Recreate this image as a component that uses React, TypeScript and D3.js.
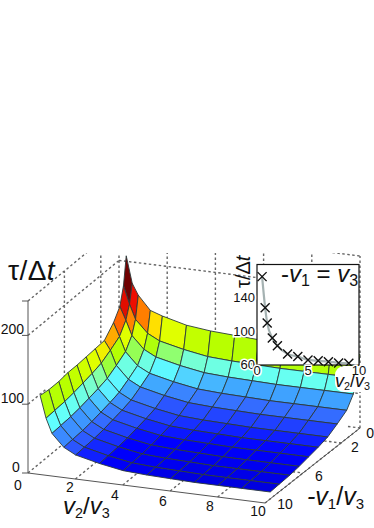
import React from "react";
import * as d3 from "d3";

const v2Nodes = [0.3, 0.55, 0.8, 1.3, 1.8, 2.8, 3.8, 4.8, 5.8, 6.8, 7.8, 8.8, 10];
const v1Nodes = [0, 0.3, 0.7, 1.4, 2.4, 3.4, 4.4, 5.4, 6.4, 7.4, 8.5, 9.45];

// tau/dt, one row per -v1 node
const tauRows = [
  [208, 169, 153, 133, 127, 118, 114, 112, 110, 109, 108, 108, 107],
  [168, 142, 121, 103, 94, 86, 80, 78, 77, 76, 76, 76, 76],
  [142, 123, 102, 84, 75, 67, 61, 59, 58, 57, 57, 57, 57],
  [126, 107, 86, 68, 59, 51, 45, 43, 42, 41, 41, 41, 41],
  [111, 98, 77, 59, 50, 42, 36, 34, 33, 32, 32, 32, 32],
  [110, 90, 69, 51, 42, 34, 28, 26, 25, 24, 24, 24, 24],
  [109, 86, 65, 47, 38, 30, 24, 22, 21, 20, 20, 20, 20],
  [108, 83, 62, 44, 35, 27, 21, 19, 18, 17, 17, 17, 17],
  [108, 80, 59, 41, 32, 24, 18, 16, 15, 14, 14, 14, 14],
  [106, 78, 57, 39, 30, 22, 16, 14, 13, 12, 12, 12, 12],
  [106, 77, 56, 38, 29, 21, 15, 13, 12, 11, 11, 11, 11],
  [108, 76, 55, 37, 28, 20, 14, 12, 11, 10, 10, 10, 10],
];

const colorLevels = [9, 12, 16, 20, 24, 30, 34, 42, 47, 55, 64, 70, 78, 86, 94, 100, 108, 118, 142];
const colorValues = ["#0000d8", "#0000f0", "#0000ff", "#1020ff", "#2040ff", "#3060ff", "#3878ff", "#40a8ff", "#5cf0ff", "#60ffff", "#80ffc0", "#a0ff20", "#b8ff00", "#e0ff00", "#ffe000", "#ff9000", "#ff6000", "#ff1000", "#700000"];

const v2Ticks = [2, 4, 6, 8, 10];
const v1Ticks = [2, 6, 10];
const zTicks = [0, 100, 200, 250];
const wallLines = [200, 250];

const insetX = [0.5, 0.8, 1, 1.5, 2, 3, 4, 5, 6, 7, 8, 9];
const insetY = [165, 128, 110, 92, 83, 73, 70, 66, 65, 64, 62.5, 62];
const insetXTicks = [0, 5, 10];
const insetYTicks = [60, 100, 140];

const xFront = d3.scaleLinear().domain([0, 10]).range([28, 265]);
const xBack = d3.scaleLinear().domain([0, 10]).range([119, 360]);
const yFront = d3.scaleLinear().domain([0, 10]).range([473, 503]);
const yBack = d3.scaleLinear().domain([0, 10]).range([398, 428]);
const zLift = d3.scaleLinear().domain([0, 250]).range([0, 172]);
const depth = d3.scaleLinear().domain([0, 10]).range([0, 1]);

function project(v: number, k: number, z: number): [number, number] {
  const t = depth(k);
  return [xBack(v) + (xFront(v) - xBack(v)) * t, yBack(v) + (yFront(v) - yBack(v)) * t - zLift(z)];
}

const color = d3.scaleLinear<string>().domain(colorLevels).range(colorValues).clamp(true);
const insetSx = d3.scaleLinear().domain([0, 10]).range([257, 359]);
const insetSy = d3.scaleLinear().domain([60, 180]).range([365, 264]);
const insetLine = d3.line<number>().x((d) => insetSx(d)).y((_, i) => insetSy(insetY[i])).curve(d3.curveMonotoneX);
const path2 = (a: [number, number], b: [number, number]) => `M${a[0]},${a[1]}L${b[0]},${b[1]}`;

const FONT = "'Liberation Sans', Arial, sans-serif";
const DASH = { stroke: "#666", strokeWidth: 1.4, strokeDasharray: "2.5 2.5", fill: "none" };

const cells: { d: string; fill: string; order: number }[] = [];
for (let r = 0; r < v1Nodes.length - 1; r++) {
  for (let c = 0; c < v2Nodes.length - 1; c++) {
    const corners: [number, number, number][] = [
      [v2Nodes[c], v1Nodes[r], tauRows[r][c]],
      [v2Nodes[c + 1], v1Nodes[r], tauRows[r][c + 1]],
      [v2Nodes[c + 1], v1Nodes[r + 1], tauRows[r + 1][c + 1]],
      [v2Nodes[c], v1Nodes[r + 1], tauRows[r + 1][c]],
    ];
    cells.push({
      d: "M" + corners.map((p) => project(p[0], p[1], p[2]).join(",")).join("L") + "Z",
      fill: color(d3.min(corners, (p) => p[2]) as number),
      order: r * 100 + c,
    });
  }
}
cells.sort((a, b) => a.order - b.order);

function Ratio({ a, sub1, x, y, size }: { a: string; sub1: string; x: number; y: number; size: number }) {
  return (
    <text x={x} y={y} fontSize={size} fontFamily={FONT} fill="#111">
      <tspan fontStyle="italic">{a}</tspan>
      <tspan fontSize={size * 0.6} dy={size * 0.16}>{sub1}</tspan>
      <tspan dy={-size * 0.16}>/</tspan>
      <tspan fontStyle="italic">v</tspan>
      <tspan fontSize={size * 0.6} dy={size * 0.16}>3</tspan>
    </text>
  );
}

export default function App() {
  return (
    <svg width={374} height={528} style={{ position: "absolute", left: 0, top: 0 }}>
      <defs>
        <clipPath id="box">
          <rect x={0} y={253} width={374} height={275} />
        </clipPath>
      </defs>

      <g clipPath="url(#box)">
        {wallLines.map((z) => (
          <g key={z}>
            <path d={path2(project(0, 10, z), project(0, 0, z))} {...DASH} />
            <path d={path2(project(0, 0, z), project(10, 0, z))} {...DASH} />
          </g>
        ))}
        <path d={path2(project(0, 10, 0), project(0, 0, 0))} {...DASH} />
        <path d={path2(project(0, 10, 100), project(0, 8, 100))} {...DASH} />
        {[6, 2, 0].map((k) => (
          <path key={k} d={path2(project(0, k, 0), project(0, k, 250))} {...DASH} />
        ))}
        {v2Ticks.map((v) => (
          <g key={v}>
            <path d={path2(project(v, 0, 0), project(v, 0, 250))} {...DASH} />
            <path d={path2(project(v, 10, 0), project(v, 0, 0))} {...DASH} />
          </g>
        ))}
        {[2, 6].map((k) => (
          <path key={k} d={path2(project(0, k, 0), project(10, k, 0))} {...DASH} />
        ))}
        <path d={path2(project(9.6, 0, 50), project(10, 0, 50))} {...DASH} />
        <path d={path2(project(9.5, 0, 0), project(10, 0, 0))} {...DASH} />
      </g>

      {cells.map((c, i) => (
        <path key={i} d={c.d} fill={c.fill} stroke="#2b3a3a" strokeWidth={0.9} strokeLinejoin="round" />
      ))}

      <path d={path2(project(0, 10, 0), project(10, 10, 0))} stroke="#555" strokeWidth={1} fill="none" />
      <path d={path2(project(10, 10, 0), project(10, 0, 0))} stroke="#555" strokeWidth={1} fill="none" />
      <path d={path2(project(0, 10, 0), project(0, 10, 250))} stroke="#555" strokeWidth={1} fill="none" />
      {zTicks.map((z) => {
        const p = project(0, 10, z);
        return <path key={z} d={path2([p[0] - 6, p[1]], p)} stroke="#555" strokeWidth={1} />;
      })}

      <g fontFamily={FONT} fontSize={14} fill="#111" textAnchor="middle">
        <text x={24} y={334} textAnchor="end">200</text>
        <text x={24} y={403} textAnchor="end">100</text>
        <text x={16} y={472}>0</text>
        <text x={18} y={490}>0</text>
        {v2Ticks.map((v, i) => (
          <text key={v} x={[70, 115, 163, 210, 258][i]} y={[492, 500, 506, 511, 516][i]}>{v}</text>
        ))}
        {v1Ticks.map((k, i) => (
          <text key={k} x={[355, 319, 285][i]} y={[452, 481, 509][i]}>{k}</text>
        ))}
        <text x={374} y={438} textAnchor="end">0</text>
      </g>

      <text x={8} y={280} fontSize={28} letterSpacing={0.4} fontFamily={FONT} fill="#111">
        τ/Δ<tspan fontStyle="italic">t</tspan>
      </text>
      <Ratio a="v" sub1="2" x={63} y={514} size={24} />
      <Ratio a="-v" sub1="1" x={307} y={505} size={25} />

      <rect x={257} y={264.5} width={102} height={100.5} fill="#fff" stroke="#111" strokeWidth={1.2} />
      <path d={insetLine(insetX) as string} fill="none" stroke="#a5b2b2" strokeWidth={2.2} />
      {insetX.map((x, i) => {
        const cx = insetSx(x);
        const cy = insetSy(insetY[i]);
        return <path key={i} d={`M${cx - 4.5},${cy - 4.5}L${cx + 4.5},${cy + 4.5}M${cx - 4.5},${cy + 4.5}L${cx + 4.5},${cy - 4.5}`} stroke="#111" strokeWidth={1.4} />;
      })}
      <text x={281} y={282} fontSize={24} fontFamily={FONT} fill="#111">
        -<tspan fontStyle="italic">v</tspan>
        <tspan fontSize={16} dy={4}>1</tspan>
        <tspan dy={-4}> = </tspan>
        <tspan fontStyle="italic">v</tspan>
        <tspan fontSize={16} dy={4}>3</tspan>
      </text>
      <text transform="translate(250,288) rotate(-90)" fontSize={20} fontFamily={FONT} fill="#111">
        τ/Δ<tspan fontStyle="italic">t</tspan>
      </text>
      <rect x={335} y={366} width={39} height={26} rx={9} fill="#fff" />
      <g fontFamily={FONT} fontSize={13} fill="#111" stroke="#fff" strokeWidth={3} style={{ paintOrder: "stroke" }}>
        {insetYTicks.map((t, i) => (
          <text key={t} x={255} y={[369, 336, 302][i]} textAnchor="end">{t}</text>
        ))}
        {insetXTicks.map((t) => (
          <text key={t} x={insetSx(t)} y={375} textAnchor="middle">{t}</text>
        ))}
      </g>
      <Ratio a="v" sub1="2" x={335} y={387} size={18} />
    </svg>
  );
}
